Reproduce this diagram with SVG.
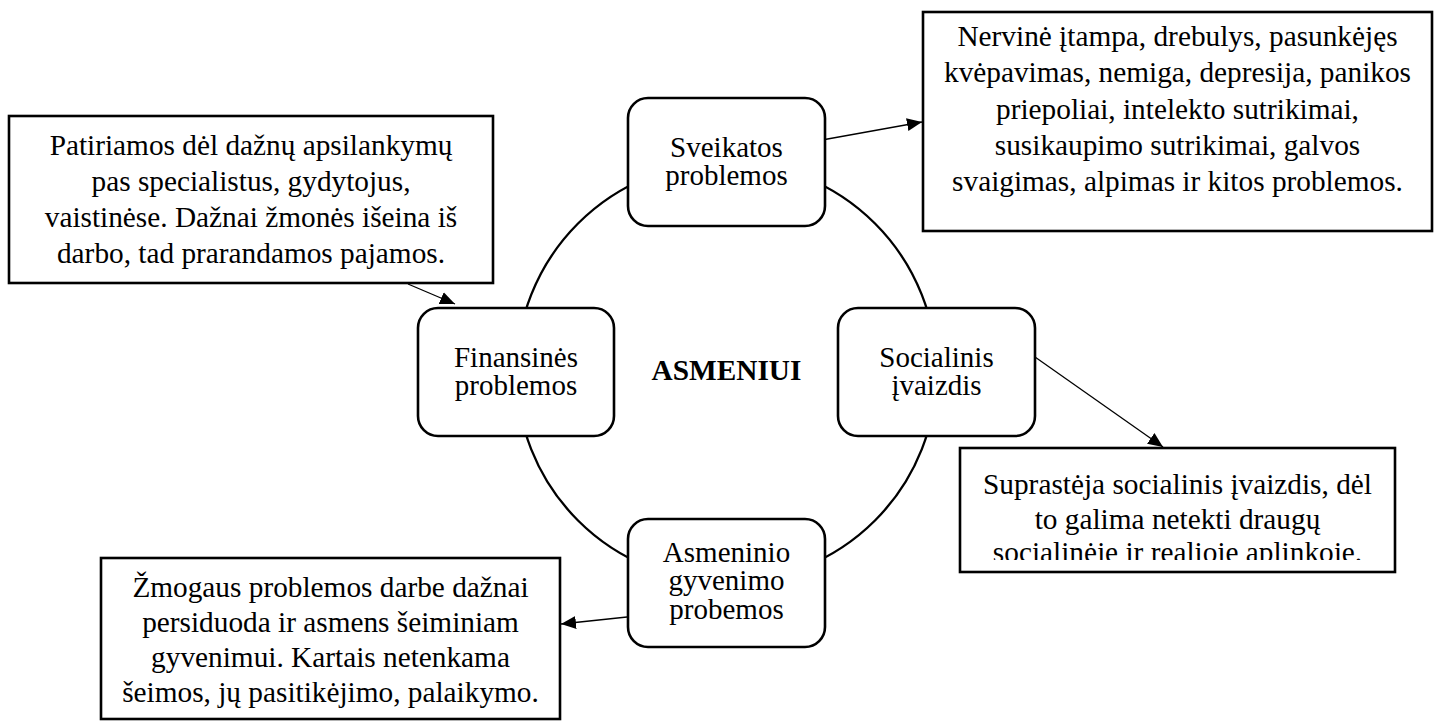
<svg xmlns="http://www.w3.org/2000/svg" width="1442" height="721" viewBox="0 0 1442 721">
<style>
text{font-family:"Liberation Serif","Times New Roman",serif;font-size:29.3px;fill:#000;text-anchor:middle}
.nt{font-size:29px}
.box{fill:#fff;stroke:#000;stroke-width:2.6}
.node{fill:#fff;stroke:#000;stroke-width:2.6}
.ring{fill:none;stroke:#000;stroke-width:2.3}
.conn{stroke:#000;stroke-width:1.3;fill:none;marker-end:url(#ah)}
.b{font-weight:bold}
</style>
<defs>
<marker id="ah" markerUnits="userSpaceOnUse" markerWidth="16" markerHeight="14" refX="15" refY="6.5" orient="auto">
<path d="M0,0 L15,6.5 L0,13 Z" fill="#000"/>
</marker>
<clipPath id="clipBR"><rect x="960" y="448" width="435" height="112"/></clipPath>
</defs>
<rect width="1442" height="721" fill="#fff"/>
<circle class="ring" cx="726.5" cy="372" r="210"/>
<g id="center"><text class="b" x="726.5" y="380">ASMENIUI</text></g>
<g id="connectors">
<line class="conn" x1="822" y1="140" x2="922" y2="122"/>
<line class="conn" x1="408" y1="284" x2="455" y2="304"/>
<line class="conn" x1="1035" y1="357" x2="1163" y2="447"/>
<line class="conn" x1="627" y1="617" x2="561" y2="624"/>
</g>
<g id="node-sveikatos">
<rect class="node" x="628" y="98" width="197" height="128" rx="20"/>
<text class="nt" x="726.5" y="157">Sveikatos<tspan x="726.5" dy="28.3">problemos</tspan></text>
</g>
<g id="node-finansines">
<rect class="node" x="418" y="308" width="196" height="128" rx="20"/>
<text class="nt" x="516" y="367">Finansinės<tspan x="516" dy="28.3">problemos</tspan></text>
</g>
<g id="node-socialinis">
<rect class="node" x="838" y="308" width="197" height="128" rx="20"/>
<text class="nt" x="936.5" y="367">Socialinis<tspan x="936.5" dy="28.3">įvaizdis</tspan></text>
</g>
<g id="node-asmeninio">
<rect class="node" x="628" y="519" width="197" height="128" rx="20"/>
<text class="nt" x="726.5" y="562">Asmeninio<tspan x="726.5" dy="28.3">gyvenimo</tspan><tspan x="726.5" dy="28.3">probemos</tspan></text>
</g>
<g id="box-sveikatos">
<rect class="box" x="923" y="12" width="509" height="219"/>
<text x="1177.5" y="46">Nervinė įtampa, drebulys, pasunkėjęs<tspan x="1177.5" dy="36.3">kvėpavimas, nemiga, depresija, panikos</tspan><tspan x="1177.5" dy="36.3">priepoliai, intelekto sutrikimai,</tspan><tspan x="1177.5" dy="36.3">susikaupimo sutrikimai, galvos</tspan><tspan x="1177.5" dy="36.3">svaigimas, alpimas ir kitos problemos.</tspan></text>
</g>
<g id="box-finansines">
<rect class="box" x="9" y="116" width="484" height="167"/>
<text x="251" y="155">Patiriamos dėl dažnų apsilankymų<tspan x="251" dy="36">pas specialistus, gydytojus,</tspan><tspan x="251" dy="36">vaistinėse. Dažnai žmonės išeina iš</tspan><tspan x="251" dy="36">darbo, tad prarandamos pajamos.</tspan></text>
</g>
<g id="box-socialinis">
<rect class="box" x="960" y="448" width="435" height="124"/>
<g clip-path="url(#clipBR)">
<text x="1177.5" y="494">Suprastėja socialinis įvaizdis, dėl<tspan x="1177.5" dy="34.5">to galima netekti draugų</tspan><tspan x="1177.5" dy="33.5">socialinėje ir realioje aplinkoje.</tspan></text>
</g>
</g>
<g id="box-asmeninio">
<rect class="box" x="101" y="558" width="459" height="161"/>
<text x="330.5" y="597">Žmogaus problemos darbe dažnai<tspan x="330.5" dy="35">persiduoda ir asmens šeiminiam</tspan><tspan x="330.5" dy="35">gyvenimui. Kartais netenkama</tspan><tspan x="330.5" dy="35">šeimos, jų pasitikėjimo, palaikymo.</tspan></text>
</g>
</svg>
